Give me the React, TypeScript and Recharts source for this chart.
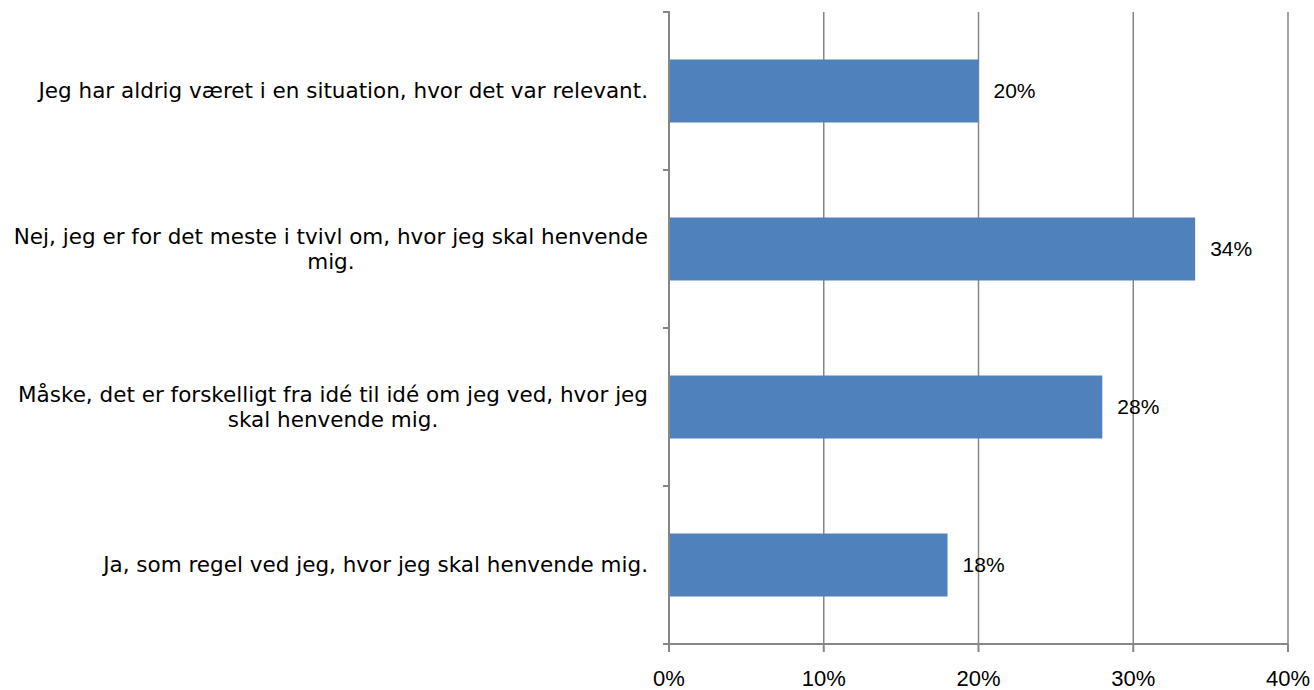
import { BarChart, Bar, XAxis, YAxis, CartesianGrid, LabelList } from 'recharts';

const W = 1314;
const H = 690;
const TOP = 12;
const AXIS_H = 46;

const CATEGORIES = [
  'Jeg har aldrig været i en situation, hvor det var relevant.',
  'Nej, jeg er for det meste i tvivl om, hvor jeg skal henvende\nmig.',
  'Måske, det er forskelligt fra idé til idé om jeg ved, hvor jeg\nskal henvende mig.',
  'Ja, som regel ved jeg, hvor jeg skal henvende mig.',
];
const SHARES = [20, 34, 28, 18];
const X_TICKS = [0, 10, 20, 30, 40];

const data = CATEGORIES.map((c, i) => ({ cat: c, v: SHARES[i] }));

const GRID = '#868686';
const CAT_FONT = '"DejaVu Sans", Verdana, sans-serif';
const CAT_SIZE = 21.5;
const NUM_FONT = '"Liberation Sans", Arial, sans-serif';
const BAND = (H - TOP - AXIS_H) / CATEGORIES.length;

let ctx: CanvasRenderingContext2D | null = null;
function textWidth(s: string) {
  if (!ctx) ctx = document.createElement('canvas').getContext('2d');
  if (!ctx) return s.length * 11;
  ctx.font = `${CAT_SIZE}px ${CAT_FONT}`;
  return ctx.measureText(s).width;
}

// category label, wrapped lines centred on each other, plus the tick marks at band edges
function CatTick(props: any) {
  const { x, y, payload, index } = props;
  const lines: string[] = String(payload.value).split('\n');
  const widest = Math.max(...lines.map(textWidth));
  const right = x + 7;
  const axisX = x + 29;
  const lh = 25;
  return (
    <g>
      <line x1={axisX - 7} x2={axisX} y1={y - BAND / 2} y2={y - BAND / 2} stroke={GRID} strokeWidth={2} />
      {index === CATEGORIES.length - 1 && (
        <line x1={axisX - 7} x2={axisX} y1={y + BAND / 2} y2={y + BAND / 2} stroke={GRID} strokeWidth={2} />
      )}
      {lines.map((l, i) => (
        <text
          key={i}
          x={lines.length > 1 ? right - widest / 2 : right}
          y={y + 7 + (i - (lines.length - 1) / 2) * lh}
          textAnchor={lines.length > 1 ? 'middle' : 'end'}
          fontFamily={CAT_FONT}
          fontSize={CAT_SIZE}
          fill="#000"
        >
          {l}
        </text>
      ))}
    </g>
  );
}

export default function App() {
  return (
    <div style={{ position: 'absolute', left: 0, top: 0, background: '#fff' }}>
      <BarChart
        width={W}
        height={H}
        data={data}
        layout="vertical"
        margin={{ top: TOP, right: 26, bottom: 0, left: 0 }}
        barCategoryGap="30%"
      >
        <CartesianGrid vertical horizontal={false} stroke={GRID} strokeWidth={1.5} />
        <XAxis
          type="number"
          domain={[0, 40]}
          ticks={X_TICKS}
          tickFormatter={(v: number) => `${v}%`}
          height={AXIS_H}
          tickSize={8}
          tickMargin={18}
          axisLine={{ stroke: GRID, strokeWidth: 2 }}
          tickLine={{ stroke: GRID, strokeWidth: 2 }}
          tick={{ fill: '#000', fontSize: 22, fontFamily: NUM_FONT }}
          interval={0}
        />
        <XAxis
          xAxisId="top"
          orientation="top"
          type="number"
          domain={[0, 40]}
          height={0}
          tick={false}
          tickLine={false}
          axisLine={{ stroke: GRID, strokeWidth: 2 }}
        />
        <YAxis
          type="category"
          dataKey="cat"
          width={669}
          tickLine={false}
          tickMargin={22}
          axisLine={{ stroke: GRID, strokeWidth: 2 }}
          tick={<CatTick />}
          interval={0}
        />
        <Bar dataKey="v" fill="#4F81BD" isAnimationActive={false}>
          <LabelList
            dataKey="v"
            position="right"
            offset={15}
            formatter={(v: any) => `${v}%`}
            fill="#000"
            fontSize={21}
            fontFamily={NUM_FONT}
          />
        </Bar>
      </BarChart>
    </div>
  );
}
